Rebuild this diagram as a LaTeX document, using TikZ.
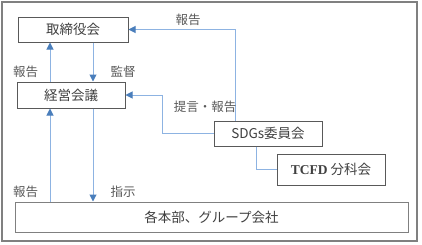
\documentclass[tikz,border=0pt]{standalone}
\usepackage{fontspec}
\setmainfont{Noto Sans CJK JP}
\newfontfamily\tcfdfont{Liberation Serif}
\usetikzlibrary{arrows.meta}
\definecolor{boxline}{HTML}{595959}
\definecolor{txt}{HTML}{404040}
\definecolor{lbl}{HTML}{595959}
\definecolor{conn}{HTML}{8DB3E2}
\definecolor{head}{HTML}{4A7EBB}
\tikzset{
  orgbox/.style={draw=boxline, line width=1pt, fill=white, text=txt, inner sep=0pt, font=\fontsize{13.5}{14}\selectfont},
  lab/.style={text=lbl, inner sep=0pt, font=\fontsize{12.5}{13}\selectfont},
  conline/.style={draw=conn, line width=1pt},
  arr/.style={conline, -{Triangle[length=7pt,width=7pt,fill=head,color=head]}},
}
\begin{document}
\begin{tikzpicture}[x=1pt,y=-1pt]
\useasboundingbox (0,0) rectangle (422,244);
\draw[draw=gray, line width=1.3pt] (2,2) rectangle (417,241);
\node[orgbox, minimum width=110pt, minimum height=25pt] (tori) at (73,29.5) {取締役会};
\node[orgbox, minimum width=108pt, minimum height=26pt] (keiei) at (71,95) {経営会議};
\node[orgbox, minimum width=108pt, minimum height=25pt] (sdg) at (268,133.5) {SDGs委員会};
\node[orgbox, minimum width=108pt, minimum height=31pt] (tcfd) at (331,169.5) {{\tcfdfont\bfseries TCFD} 分科会};
\node[orgbox, draw=gray, minimum width=393pt, minimum height=30pt] (bottom) at (211.5,217) {各本部、グループ会社};
% connectors
\draw[arr] ([xshift=-33pt]sdg.north) |- (tori.east);
\draw[arr] (sdg.west) -| ([xshift=-51pt]sdg.west |- keiei.east) -- (keiei.east);
\draw[conline] ([xshift=-12pt]sdg.south) |- (tcfd.west);
\draw[arr] ([xshift=-21pt]keiei.north) -- ([xshift=-21pt]keiei.north |- tori.south);
\draw[arr] ([xshift=20pt]tori.south) -- ([xshift=20pt]tori.south |- keiei.north);
\draw[arr] ([xshift=-21pt]keiei.north |- bottom.north) -- ([xshift=-21pt]keiei.south);
\draw[arr] ([xshift=22pt]keiei.south) -- ([xshift=22pt]keiei.south |- bottom.north);
% labels
\node[lab] (l1) at (188,20) {報告};
\node[lab] (l2) at (123,72) {監督};
\node[lab] (l3) at (25.5,72) {報告};
\node[lab] (l4) at (205,107) {提言・報告};
\node[lab] (l5) at (25.5,192) {報告};
\node[lab] (l6) at (123,192) {指示};
\end{tikzpicture}
\end{document}
